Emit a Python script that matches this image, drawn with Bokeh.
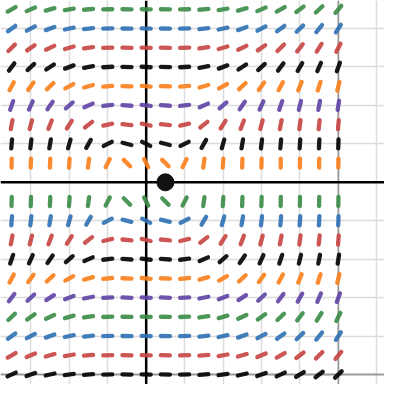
import math
from bokeh.plotting import figure
from bokeh.models import Span, FixedTicker, ColumnDataSource
from bokeh.embed import file_html
from bokeh.resources import INLINE

# Column positions of the slope-field segments (x, graph units)
x_cols = [-3.5, -3, -2.5, -2, -1.5, -1, -0.5, 0, 0.5, 1, 1.5, 2, 2.5, 3, 3.5, 4, 4.5, 5]

# Row positions (y, graph units), top to bottom
row_y = [4.5, 4, 3.5, 3, 2.5, 2, 1.5, 1, 0.5,
         -0.5, -1, -1.5, -2, -2.5, -3, -3.5, -4, -4.5, -5]

# Row colours
row_color = ["green", "blue", "red", "black", "orange", "purple", "red", "black", "orange",
             "green", "blue", "red", "black", "orange", "purple", "green", "blue", "red", "black"]

# Segment angles (degrees) read per row, left to right
deg_y45 = [30, 23, 16, 10, 5, 1, -1, -1, -1, 1, 5, 10, 16, 23, 30, 37, 44, 50]
deg_y40 = [36, 28, 20, 12, 6, 2, -1, -2, -1, 2, 6, 12, 20, 28, 36, 44, 51, 57]
deg_y35 = [44, 35, 25, 16, 8, 2, -1, -2, -1, 2, 8, 16, 25, 35, 44, 52, 58, 63]
deg_y30 = [53, 43, 33, 21, 11, 3, -2, -3, -2, 3, 11, 21, 33, 43, 53, 60, 66, 70]
deg_y25 = [62, 54, 43, 29, 16, 5, -2, -5, -2, 5, 16, 29, 43, 54, 62, 68, 72, 76]
deg_y20 = [71, 65, 55, 41, 24, 7, -4, -7, -4, 7, 24, 41, 55, 65, 71, 76, 79, 81]
deg_y15 = [79, 75, 69, 57, 38, 13, -6, -13, -6, 13, 38, 57, 69, 75, 79, 82, 84, 85]
deg_y10 = [85, 83, 80, 74, 60, 27, -14, -27, -14, 27, 60, 74, 80, 83, 85, 86, 87, 88]
deg_y05 = [89, 88, 88, 86, 82, 63, -45, -63, -45, 63, 82, 86, 88, 88, 89, 89, 89, 89]
deg_m05 = [89, 88, 88, 86, 82, 63, -45, -63, -45, 63, 82, 86, 88, 88, 89, 89, 89, 89]
deg_m10 = [85, 83, 80, 74, 60, 27, -14, -27, -14, 27, 60, 74, 80, 83, 85, 86, 87, 88]
deg_m15 = [79, 75, 69, 57, 38, 13, -6, -13, -6, 13, 38, 57, 69, 75, 79, 82, 84, 85]
deg_m20 = [71, 65, 55, 41, 24, 7, -4, -7, -4, 7, 24, 41, 55, 65, 71, 76, 79, 81]
deg_m25 = [62, 54, 43, 29, 16, 5, -2, -5, -2, 5, 16, 29, 43, 54, 62, 68, 72, 76]
deg_m30 = [53, 43, 33, 21, 11, 3, -2, -3, -2, 3, 11, 21, 33, 43, 53, 60, 66, 70]
deg_m35 = [44, 35, 25, 16, 8, 2, -1, -2, -1, 2, 8, 16, 25, 35, 44, 52, 58, 63]
deg_m40 = [36, 28, 20, 12, 6, 2, -1, -2, -1, 2, 6, 12, 20, 28, 36, 44, 51, 57]
deg_m45 = [30, 23, 16, 10, 5, 1, -1, -1, -1, 1, 5, 10, 16, 23, 30, 37, 44, 50]
deg_m50 = [25, 19, 13, 8, 4, 1, -1, -1, -1, 1, 4, 8, 13, 19, 25, 32, 38, 44]

row_angles = [deg_y45, deg_y40, deg_y35, deg_y30, deg_y25, deg_y20, deg_y15, deg_y10, deg_y05,
              deg_m05, deg_m10, deg_m15, deg_m20, deg_m25, deg_m30, deg_m35, deg_m40, deg_m45, deg_m50]

# Point shown on the x-axis
pt_x = [0.5]
pt_y = [0]

palette = {"red": "#c74440", "blue": "#2d70b3", "green": "#388c46",
           "purple": "#6042a6", "orange": "#fa7e19", "black": "#000000"}

HALF = 0.118  # half segment length in graph units

x0, y0, x1, y1, cols = [], [], [], [], []
for yv, cname, angs in zip(row_y, row_color, row_angles):
    for xv, a in zip(x_cols, angs):
        r = math.radians(a)
        dx, dy = HALF * math.cos(r), HALF * math.sin(r)
        x0.append(xv - dx); x1.append(xv + dx)
        y0.append(yv - dy); y1.append(yv + dy)
        cols.append(palette[cname])

src = ColumnDataSource(dict(x0=x0, y0=y0, x1=x1, y1=y1, c=cols))

p = figure(width=384, height=384, x_range=(-3.79, 6.2), y_range=(-5.26, 4.73),
           output_backend="svg", toolbar_location=None, min_border=0)
p.xaxis.visible = False
p.yaxis.visible = False
p.outline_line_color = None
p.background_fill_color = "white"

minor_x = [-3, -2, -1, 1, 2, 3, 4, 6]
minor_y = [4, 3, 2, 1, -1, -2, -3, -4]
p.xgrid.ticker = FixedTicker(ticks=minor_x)
p.ygrid.ticker = FixedTicker(ticks=minor_y)
for g in (p.xgrid, p.ygrid):
    g.grid_line_color = "#dcdcdc"
    g.grid_line_width = 1.5

p.add_layout(Span(location=5, dimension="height", line_color="#999999", line_width=1.8, level="underlay"))
p.add_layout(Span(location=-5, dimension="width", line_color="#999999", line_width=1.8, level="underlay"))
p.add_layout(Span(location=0, dimension="height", line_color="#000000", line_width=2.5, level="underlay"))
p.add_layout(Span(location=0, dimension="width", line_color="#000000", line_width=2.5, level="underlay"))

p.segment(x0="x0", y0="y0", x1="x1", y1="y1", source=src, line_color="c",
          line_width=4.3, line_cap="round", line_alpha=0.9)

p.scatter(pt_x, pt_y, size=17, color="#111111")

open("out.html", "w").write(file_html(p, INLINE))
